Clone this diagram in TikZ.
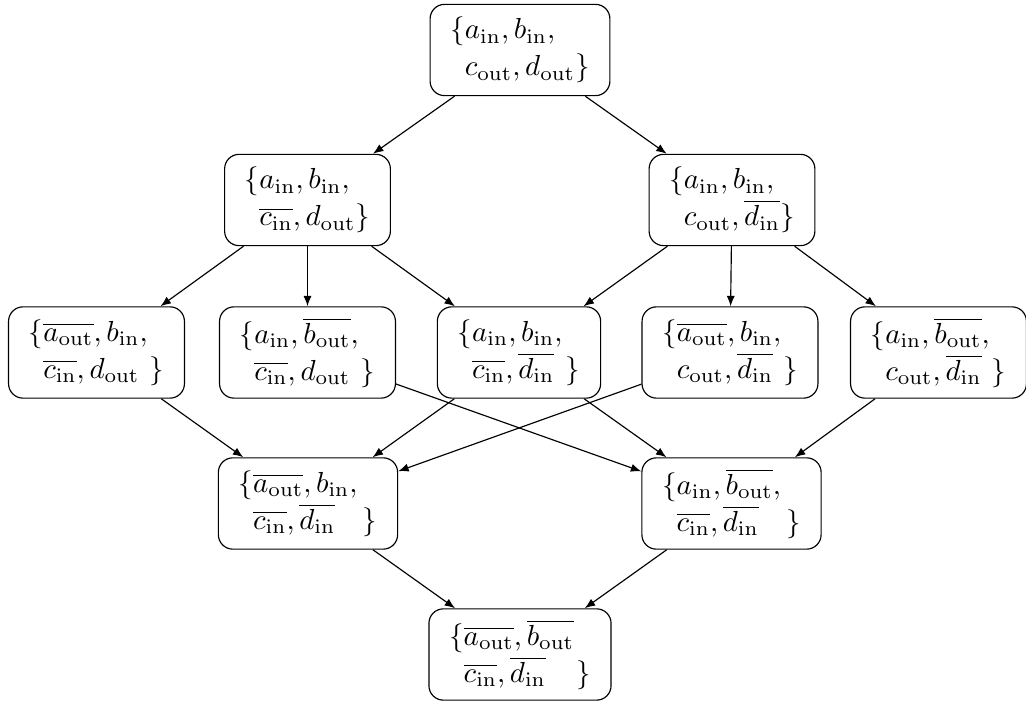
\documentclass[tikz,border=0pt]{standalone}
\usetikzlibrary{arrows.meta}
\newcommand{\inn}{\mathrm{in}}
\newcommand{\outt}{\mathrm{out}}
\newcommand{\ob}[1]{\overline{#1}}
\newcommand{\ph}{\hphantom{\{}}
\begin{document}
\begin{tikzpicture}[x=0.345pt,y=-0.345pt,
  setbox/.style={draw, rounded corners=5pt, align=left, inner xsep=7pt, inner ysep=3pt, minimum height=31.5pt, font=\fontsize{10}{12.8}\selectfont},
  conn/.style={-{Latex[length=3.6pt,width=2.8pt]}}]
\useasboundingbox (0,0) rectangle (1026,704);
\node[setbox] (t) at (520,50) {$\{a_\inn, b_\inn,$\\ $\ph c_\outt, d_\outt\}$};
\node[setbox] (l2) at (307.5,200) {$\{a_\inn, b_\inn,$\\ $\ph \ob{c_\inn}, d_\outt\}$};
\node[setbox] (r2) at (732,200) {$\{a_\inn, b_\inn,$\\ $\ph c_\outt, \ob{d_\inn}\}$};
\node[setbox] (m1) at (96.5,352.5) {$\{\ob{a_\outt}, b_\inn,$\\ $\ph \ob{c_\inn}, d_\outt\hspace{3.5pt}\}$};
\node[setbox] (m2) at (307.5,352.5) {$\{a_\inn, \ob{b_\outt},$\\ $\ph \ob{c_\inn}, d_\outt\hspace{3.5pt}\}$};
\node[setbox] (m3) at (519,352.5) {$\{a_\inn, b_\inn,$\\ $\ph \ob{c_\inn}, \ob{d_\inn}\hspace{4pt}\}$};
\node[setbox] (m4) at (730,352.5) {$\{\ob{a_\outt}, b_\inn,$\\ $\ph c_\outt, \ob{d_\inn}\hspace{3.5pt}\}$};
\node[setbox] (m5) at (938.5,352.5) {$\{a_\inn, \ob{b_\outt},$\\ $\ph c_\outt, \ob{d_\inn}\hspace{3.5pt}\}$};
\node[setbox] (l4) at (308,503.5) {$\{\ob{a_\outt}, b_\inn,$\\ $\ph \ob{c_\inn}, \ob{d_\inn}\hspace{9.5pt}\}$};
\node[setbox] (r4) at (731.5,503.5) {$\{a_\inn, \ob{b_\outt},$\\ $\ph \ob{c_\inn}, \ob{d_\inn}\hspace{9.5pt}\}$};
\node[setbox] (b) at (520,654.5) {$\{\ob{a_\outt}, \ob{b_\outt}$\\ $\ph \ob{c_\inn}, \ob{d_\inn}\hspace{10.5pt}\}$};
\foreach \a/\b in {t/l2,t/r2,l2/m1,l2/m2,l2/m3,r2/m3,r2/m4,r2/m5,m1/l4,m3/l4,m4/l4,m2/r4,m3/r4,m5/r4,l4/b,r4/b}
  \draw[conn] (\a) -- (\b);
\end{tikzpicture}
\end{document}
